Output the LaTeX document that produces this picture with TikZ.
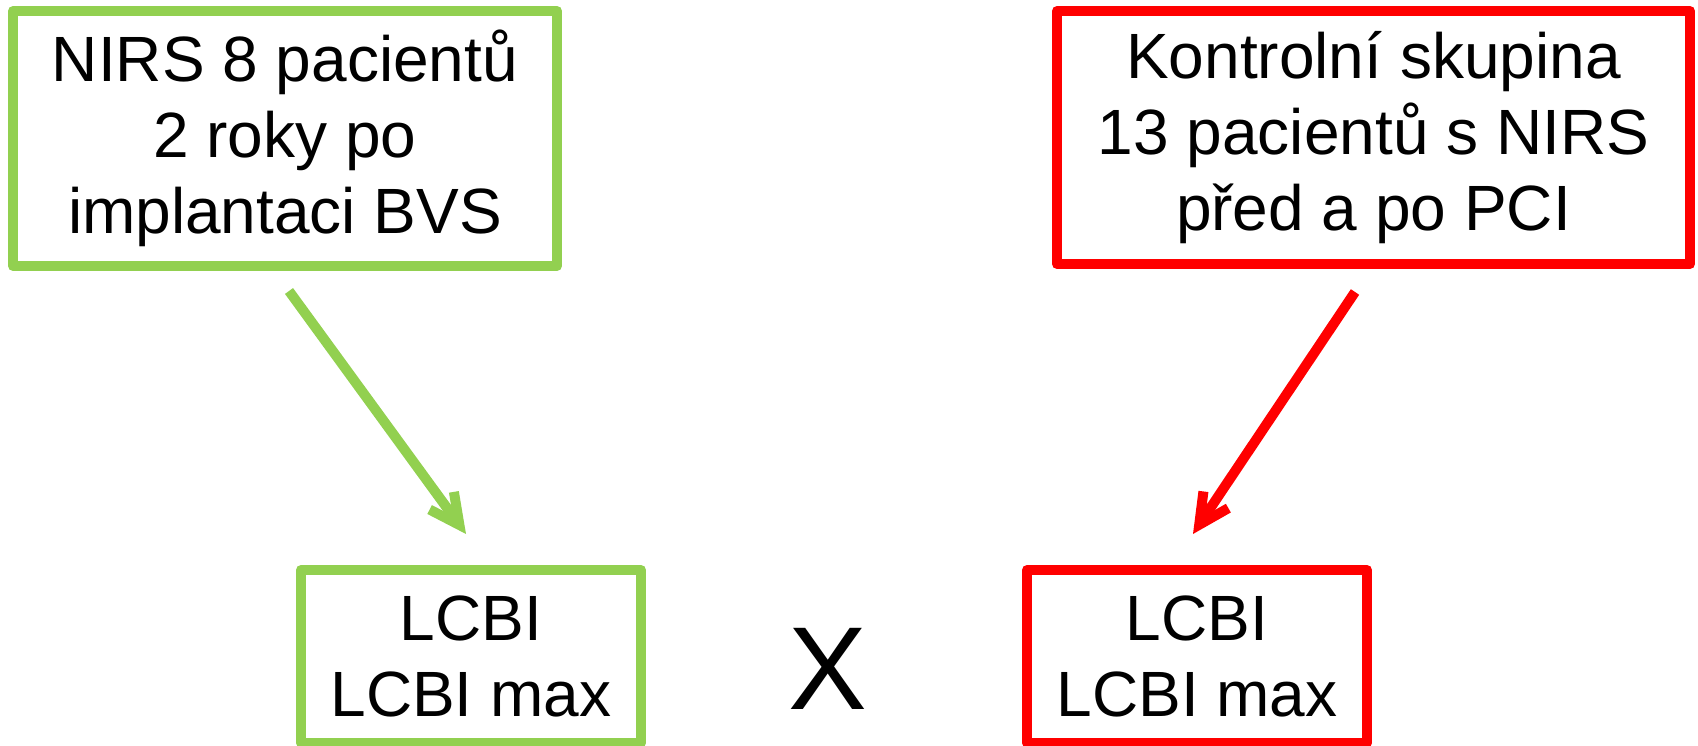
\documentclass[tikz,border=0pt]{standalone}
\usepackage{fontspec}
\setmainfont{Liberation Sans}
\usetikzlibrary{arrows.meta,calc}
\definecolor{lgreen}{HTML}{92D050}
\definecolor{pred}{HTML}{FF0000}
\tikzset{
  box/.style={draw=#1, line width=10pt, line join=round, align=center, inner sep=0pt,
    font=\fontsize{64pt}{76pt}\selectfont},
  link/.style={draw=#1, line width=10pt,
    -{Straight Barb[length=30pt,width=30pt]}},
}
\begin{document}
\begin{tikzpicture}[x=1pt,y=-1pt]
\useasboundingbox (0,0) rectangle (1698,746);
\clip (0,0) rectangle (1698,746);
\node[box=lgreen, minimum width=544pt, minimum height=255pt] (gtop) at (285,138.5)
  {NIRS 8 pacientů\\2 roky po\\implantaci BVS};
\node[box=pred, minimum width=633pt, minimum height=253pt] (rtop) at (1373.5,137.5)
  {Kontrolní skupina\\13 pacientů s NIRS\\před a po PCI};
\node[box=lgreen, minimum width=340pt, minimum height=173pt] (gbot) at (471,656.5)
  {LCBI\\LCBI max};
\node[box=pred, minimum width=340pt, minimum height=173pt] (rbot) at (1197,656.5)
  {LCBI\\LCBI max};
\node[font=\fontsize{118pt}{120pt}\selectfont, inner sep=0pt, anchor=base] (vs) at (828,709) {X};
\coordinate (ga) at ($(gtop.south)+(4,20)$);
\coordinate (gb) at ($(gbot.north)+(-5,-31)$);
\coordinate (ra) at ($(rtop.south)+(-18.5,23)$);
\coordinate (rb) at ($(rbot.north)+(-4,-31)$);
\draw[link=lgreen] (ga) -- (gb);
\draw[link=pred] (ra) -- (rb);
\end{tikzpicture}
\end{document}
